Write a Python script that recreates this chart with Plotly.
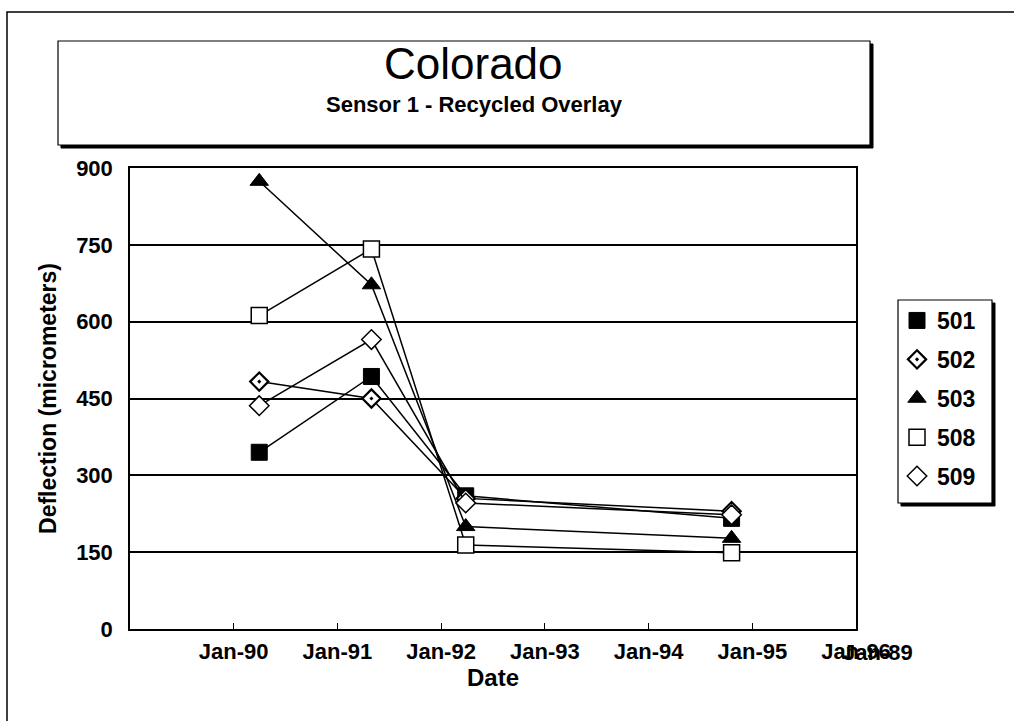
import plotly.graph_objects as go

# ---- data ----
dates = ["1990-04-01", "1991-05-01", "1992-03-28", "1994-10-20"]
series_names = ["501", "502", "503", "508", "509"]
s501 = [345, 493, 260, 216]
s502 = [483, 450, 255, 230]
s503 = [874, 672, 200, 177]
s508 = [612, 742, 164, 149]
s509 = [436, 565, 246, 223]
y_ticks = [0, 150, 300, 450, 600, 750, 900]
x_tickvals = ["1990-01-01", "1991-01-01", "1992-01-01", "1993-01-01",
              "1994-01-01", "1995-01-01", "1996-01-01"]
x_ticktext = ["Jan-90", "Jan-91", "Jan-92", "Jan-93", "Jan-94", "Jan-95", "Jan-96"]
extra_tick_label = "Jan-89"

FONT = "Liberation Sans, Arial, sans-serif"
BFONT = "Liberation Sans, Arial, sans-serif"

styles = {
    "501": dict(symbol="square", color="black", line=dict(color="black", width=1), size=16),
    "502": dict(symbol="diamond-dot", color="white", line=dict(color="black", width=2.2), size=14),
    "503": dict(symbol="triangle-up", color="black", line=dict(color="black", width=1), size=16),
    "508": dict(symbol="square", color="white", line=dict(color="black", width=1.5), size=16),
    "509": dict(symbol="diamond", color="white", line=dict(color="black", width=1.5), size=15),
}
values = {"501": s501, "502": s502, "503": s503, "508": s508, "509": s509}

fig = go.Figure()
for name in series_names:
    fig.add_trace(go.Scatter(
        x=dates, y=values[name], name=name, mode="lines+markers",
        line=dict(color="black", width=1.5),
        marker=styles[name], showlegend=False, legendgroup=name,
    ))
# legend entries (markers only, like the reference legend)
for name in series_names:
    st = dict(styles[name])
    fig.add_trace(go.Scatter(
        x=[None], y=[None], name=name, mode="markers",
        marker=st, showlegend=True, legendgroup=name,
    ))

W, H = 1014, 721
L, R, T, B = 130, 856, 168, 629

def px(x):
    return (x - L) / (R - L)

def py(y):
    return (B - y) / (B - T)

shapes = []
# outer frame
shapes.append(dict(type="rect", xref="paper", yref="paper",
                   x0=px(7), x1=px(1030), y0=py(12), y1=py(740),
                   line=dict(color="black", width=1.5)))
# title box shadow + box
shapes.append(dict(type="rect", xref="paper", yref="paper",
                   x0=px(61), x1=px(873), y0=py(148), y1=py(44),
                   line=dict(color="black", width=1), fillcolor="black", layer="below"))
shapes.append(dict(type="rect", xref="paper", yref="paper",
                   x0=px(58), x1=px(870), y0=py(145), y1=py(41),
                   line=dict(color="black", width=1.2), fillcolor="white", layer="below"))
# legend shadow + box
shapes.append(dict(type="rect", xref="paper", yref="paper",
                   x0=px(901), x1=px(995), y0=py(506), y1=py(303),
                   line=dict(color="black", width=1), fillcolor="black", layer="below"))
shapes.append(dict(type="rect", xref="paper", yref="paper",
                   x0=px(898), x1=px(992), y0=py(503), y1=py(300),
                   line=dict(color="black", width=1.2), fillcolor="white", layer="below"))

annotations = [
    dict(text="Colorado", xref="paper", yref="paper", x=px(473), y=py(63),
         xanchor="center", yanchor="middle",
         showarrow=False, font=dict(family=FONT, size=44, color="black")),
    dict(text="<b>Sensor 1 - Recycled Overlay</b>", xref="paper", yref="paper", x=px(474), y=py(104),
         xanchor="center", yanchor="middle",
         showarrow=False, font=dict(family=BFONT, size=22, color="black")),
    dict(text="<b>" + extra_tick_label + "</b>", xref="x", yref="paper", x=x_tickvals[-1], y=py(652),
         xanchor="center", yanchor="middle",
         showarrow=False, xshift=22, font=dict(family=BFONT, size=22, color="black")),
]

fig.update_layout(
    width=W, height=H,
    margin=dict(l=L, r=W - R, t=T, b=H - B, pad=0),
    paper_bgcolor="white", plot_bgcolor="white",
    font=dict(family=FONT, size=16, color="black"),
    shapes=shapes, annotations=annotations,
    showlegend=True,
    legend=dict(x=px(897), y=py(299), xanchor="left", yanchor="top",
                bgcolor="rgba(0,0,0,0)", borderwidth=0,
                font=dict(family=BFONT, size=23, color="black", weight="bold"),
                tracegroupgap=6, itemwidth=30),
)
fig.update_xaxes(
    type="date", range=["1989-01-01", "1996-01-01"],
    tickvals=x_tickvals, ticktext=x_ticktext,
    ticks="inside", ticklen=6, tickcolor="black", tickwidth=1.2,
    showline=True, linecolor="black", linewidth=1.5, mirror=True,
    showgrid=False, zeroline=False,
    tickfont=dict(family=BFONT, size=22, color="black", weight="bold"),
    ticklabelstandoff=2,
    title=dict(text="Date", font=dict(family=BFONT, size=24, color="black", weight="bold"), standoff=0),
)
fig.update_yaxes(
    range=[0, 900], tickvals=y_ticks,
    ticks="", showline=True, linecolor="black", linewidth=1.5, mirror=True,
    showgrid=True, gridcolor="black", gridwidth=2, zeroline=False,
    tickfont=dict(family=BFONT, size=22, color="black", weight="bold"),
    ticklabelstandoff=11,
    title=dict(text="Deflection (micrometers)",
               font=dict(family=BFONT, size=23, color="black", weight="bold"), standoff=13),
)

fig.write_html("out.html", config={"displayModeBar": False},
               post_script="document.body.style.margin='0';")
